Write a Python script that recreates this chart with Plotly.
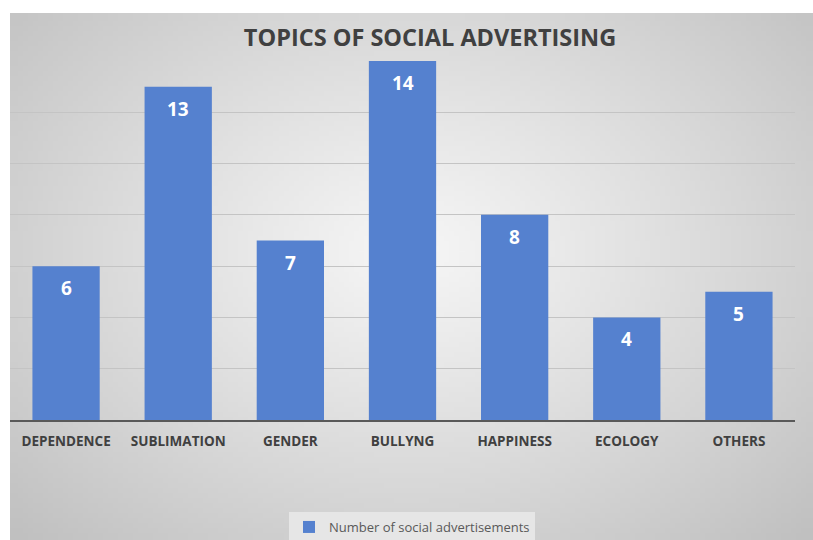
import base64, struct, zlib
import numpy as np
import plotly.graph_objects as go

categories = ["DEPENDENCE", "SUBLIMATION", "GENDER", "BULLYNG", "HAPPINESS", "ECOLOGY", "OTHERS"]
values = [6, 13, 7, 14, 8, 4, 5]
series_name = "Number of social advertisements"
title_text = "TOPICS OF SOCIAL ADVERTISING"

W, H = 813, 540
L, R, T, B = 10, 18, 61, 120
BG_TOP = 13


def gradient_png(w=160, h=105):
    yy, xx = np.mgrid[0:h, 0:w]
    fx = (xx / (w - 1) - 0.5) / 0.5
    fy = (yy / (h - 1) - 0.45) / 0.55
    d = np.sqrt(fx ** 2 + fy ** 2) / np.sqrt(2)
    g = np.clip(246 - 54 * d ** 1.1, 0, 255).astype(np.uint8)
    raw = b"".join(b"\x00" + bytes(row) for row in g)
    def chunk(t, data):
        c = struct.pack(">I", len(data)) + t + data
        return c + struct.pack(">I", zlib.crc32(t + data) & 0xFFFFFFFF)
    png = b"\x89PNG\r\n\x1a\n" + chunk(b"IHDR", struct.pack(">IIBBBBB", w, h, 8, 0, 0, 0, 0))
    png += chunk(b"IDAT", zlib.compress(raw, 9)) + chunk(b"IEND", b"")
    return "data:image/png;base64," + base64.b64encode(png).decode()


pw = W - L - R
ph = H - T - B

fig = go.Figure()
fig.add_trace(go.Bar(
    x=categories, y=values, name=series_name,
    marker=dict(color="#5581cf", line=dict(width=0)),
    showlegend=True,
))

for c, v in zip(categories, values):
    fig.add_annotation(x=c, y=v, text=str(v), showarrow=False, yshift=-22,
                       font=dict(family="Open Sans", size=19, color="white", weight="bold"))

fig.add_layout_image(dict(
    source=gradient_png(), xref="paper", yref="paper",
    x=0, y=(H - B - BG_TOP) / ph, sizex=(W - L) / pw, sizey=(H - BG_TOP) / ph,
    xanchor="left", yanchor="top", sizing="stretch", layer="below",
))

fig.update_layout(
    width=W, height=H,
    margin=dict(l=L, r=R, t=T, b=B, autoexpand=False),
    paper_bgcolor="white", plot_bgcolor="rgba(0,0,0,0)",
    bargap=0.4,
    title=dict(text=title_text, x=430 / W, xanchor="center", y=1 - 38 / H, yanchor="middle",
               font=dict(family="Open Sans", size=23.5, color="#404040", weight="bold")),
    xaxis=dict(showgrid=False, showline=True, linecolor="#595959", linewidth=1.5,
               ticks="", ticklabelstandoff=8, automargin=False,
               tickfont=dict(family="Open Sans", size=13.5, color="#404040", weight="bold")),
    yaxis=dict(range=[0, 14], dtick=2, showgrid=True, gridcolor="#c4c4c4", gridwidth=1,
               showticklabels=False, zeroline=False, showline=False, automargin=False),
    legend=dict(orientation="h", x=412 / W, xanchor="center", xref="container",
                y=1 - 527 / H, yanchor="middle", yref="container", bgcolor="#e6e6e6",
                font=dict(family="Open Sans", size=13, color="#595959")),
)

fig.write_html("out.html")
